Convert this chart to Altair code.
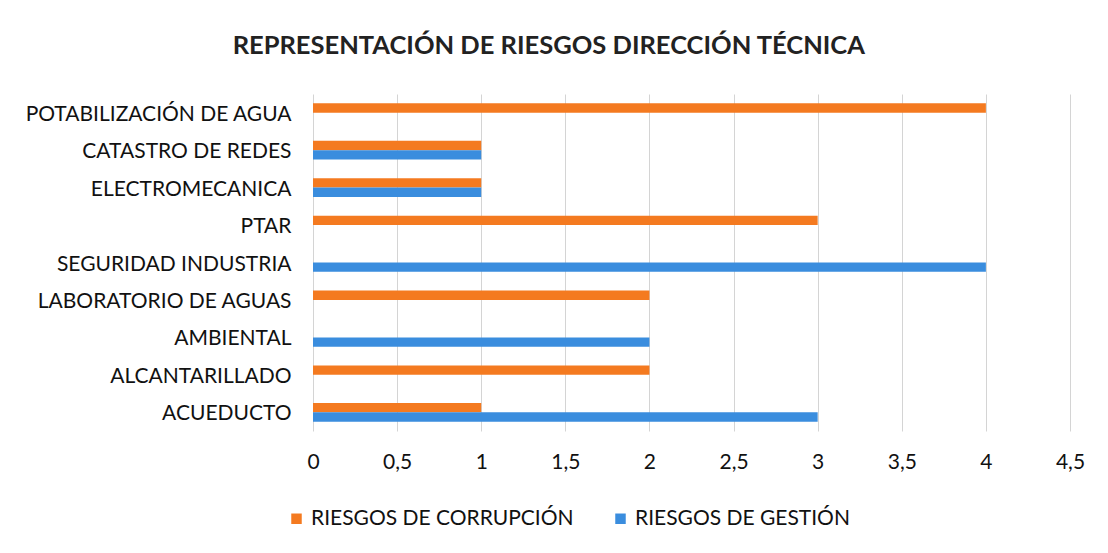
import altair as alt
import pandas as pd

categories = ["POTABILIZACIÓN DE AGUA", "CATASTRO DE REDES", "ELECTROMECANICA", "PTAR",
              "SEGURIDAD INDUSTRIA", "LABORATORIO DE AGUAS", "AMBIENTAL", "ALCANTARILLADO", "ACUEDUCTO"]
series = ["RIESGOS DE CORRUPCIÓN", "RIESGOS DE GESTIÓN"]
corrupcion = [4, 1, 1, 3, 0, 2, 0, 2, 1]
gestion = [0, 1, 1, 0, 4, 0, 2, 0, 3]
colors = ["#F47A20", "#3A8DDE"]

rows = []
for c, a, b in zip(categories, corrupcion, gestion):
    rows.append({"cat": c, "serie": series[0], "valor": a})
    rows.append({"cat": c, "serie": series[1], "valor": b})
df = pd.DataFrame(rows)

FONT = "Lato"

chart = alt.Chart(df).mark_bar().encode(
    y=alt.Y("cat:N", sort=categories, title=None,
            scale=alt.Scale(paddingInner=0.5, paddingOuter=0.25),
            axis=alt.Axis(labelFontSize=21, labelColor="#111", labelFont=FONT, ticks=False,
                          domain=False, labelPadding=22, minExtent=300, maxExtent=300,
                          labelLimit=400, labelOffset=2)),
    yOffset=alt.YOffset("serie:N", sort=series),
    x=alt.X("valor:Q", title=None,
            scale=alt.Scale(domain=[0, 4.5], nice=False),
            axis=alt.Axis(values=[0, 0.5, 1, 1.5, 2, 2.5, 3, 3.5, 4, 4.5],
                          labelExpr="replace(format(datum.value, ''), '.', ',')",
                          labelFontSize=21, labelColor="#111", labelFont=FONT, ticks=False,
                          domain=False, labelPadding=20, grid=True, gridColor="#d4d4d4",
                          labelFlush=False)),
    color=alt.Color("serie:N", sort=series, scale=alt.Scale(domain=series, range=colors),
                    legend=alt.Legend(title=None, orient="none", legendX=-27, legendY=414,
                                      direction="horizontal", symbolType="square", symbolSize=110,
                                      labelFontSize=21, labelFont=FONT, labelColor="#111",
                                      labelLimit=400, columnPadding=36, symbolStrokeWidth=0)),
).properties(
    width=757, height=337,
    padding={"left": 5, "top": 25, "right": 5, "bottom": 5},
    title=alt.TitleParams("REPRESENTACIÓN DE RIESGOS DIRECCIÓN TÉCNICA", fontSize=25.5,
                          font=FONT, fontWeight="bold", color="#222", offset=35,
                          anchor="middle", frame="bounds"),
).configure_view(stroke=None)

chart.save("out.html", embed_options={"renderer": "svg", "actions": False})
